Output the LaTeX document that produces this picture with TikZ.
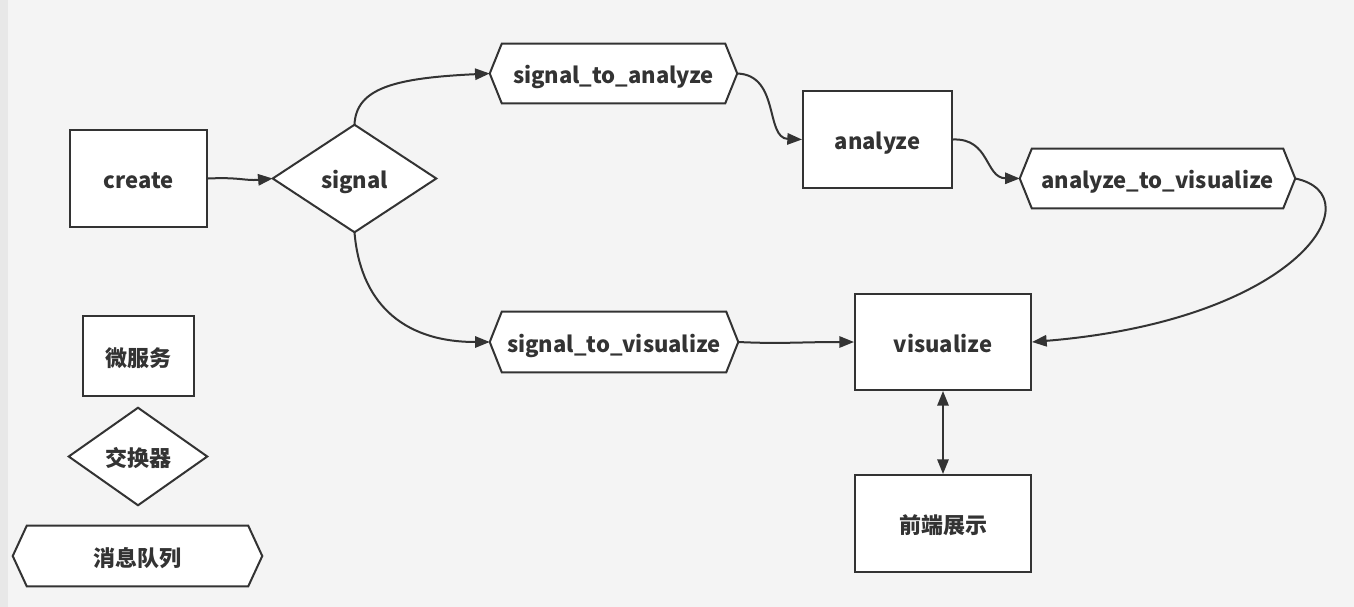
\documentclass[tikz,border=0pt]{standalone}
\usepackage{fontspec}
\setmainfont{Noto Sans CJK SC}
\usetikzlibrary{arrows.meta}
\definecolor{bg}{HTML}{F4F4F4}
\definecolor{strip}{HTML}{E8E8E8}
\definecolor{lc}{HTML}{333333}
\pgfdeclarelayer{bglayer}
\pgfdeclarelayer{shapes}
\pgfsetlayers{bglayer,shapes,main}
\begin{document}
\begin{tikzpicture}[x=0.75pt,y=-0.75pt,
  lbl/.style={inner sep=0pt, text height=17pt, text depth=2pt, font=\fontsize{16.5}{19}\selectfont\bfseries, text=lc},
  shp/.style={draw=lc, fill=white, line width=1.5pt, line join=miter},
  conn/.style={draw=lc, line width=1.5pt, -{Triangle[length=11pt,width=8.5pt]}},
  dconn/.style={draw=lc, line width=1.5pt, {Triangle[length=11pt,width=8.5pt]}-{Triangle[length=11pt,width=8.5pt]}}
]
\begin{pgfonlayer}{bglayer}
\fill[bg] (0,0) rectangle (1354,607);
\fill[strip] (0,0) rectangle (8,607);
\end{pgfonlayer}
\useasboundingbox (0,0) rectangle (1354,607);

% rectangles
\node[lbl, shp, minimum width=137*0.75pt, minimum height=97*0.75pt] (create) at (138.5,178.5) {create};
\node[lbl, shp, minimum width=149*0.75pt, minimum height=97*0.75pt] (analyze) at (877.5,139.5) {analyze};
\node[lbl, shp, minimum width=176*0.75pt, minimum height=96*0.75pt] (visualize) at (943,342) {visualize};
\node[lbl, shp, minimum width=176*0.75pt, minimum height=97*0.75pt] (front) at (943,523.5) {前端展示};
\node[lbl, shp, minimum width=111*0.75pt, minimum height=80*0.75pt] (ms) at (138.5,356) {微服务};

% diamonds
\node[lbl, minimum width=163*0.75pt, minimum height=107*0.75pt] (signal) at (354.5,178.5) {signal};
\node[lbl, minimum width=138*0.75pt, minimum height=97*0.75pt] (ex) at (138,456.5) {交换器};
\begin{pgfonlayer}{shapes}
\draw[shp] (signal.west) -- (signal.north) -- (signal.east) -- (signal.south) -- cycle;
\draw[shp] (ex.west) -- (ex.north) -- (ex.east) -- (ex.south) -- cycle;
\end{pgfonlayer}

% hexagons (message queues)
\node[lbl, minimum width=247*0.75pt, minimum height=59*0.75pt] (sta) at (613.5,73.5) {signal\_to\_analyze};
\node[lbl, minimum width=275*0.75pt, minimum height=59*0.75pt] (atv) at (1157.5,178.5) {analyze\_to\_visualize};
\node[lbl, minimum width=248*0.75pt, minimum height=60*0.75pt] (stv) at (614,342) {signal\_to\_visualize};
\node[lbl, minimum width=249*0.75pt, minimum height=60*0.75pt] (mq) at (137.5,556) {消息队列};
\begin{pgfonlayer}{shapes}
\foreach \n/\d in {sta/12, atv/12, stv/12, mq/14}{
  \draw[shp] ([xshift=\d*0.75pt]\n.north west) -- ([xshift=-\d*0.75pt]\n.north east) -- (\n.east)
    -- ([xshift=-\d*0.75pt]\n.south east) -- ([xshift=\d*0.75pt]\n.south west) -- (\n.west) -- cycle;
}
\end{pgfonlayer}

% connectors
\draw[conn] (create.east) .. controls (240,177) and (245,181) .. (signal.west);
\draw[conn] (signal.north) .. controls (356,88) and (395,78) .. (sta.west);
\draw[conn] (sta.east) .. controls (780,75) and (765,138) .. (analyze.west);
\draw[conn] (analyze.east) .. controls (990,138) and (985,178) .. (atv.west);
\draw[conn] (atv.east) .. controls (1375,195) and (1300,320) .. (visualize.east);
\draw[conn] (signal.south) .. controls (360,300) and (400,342) .. (stv.west);
\draw[conn] (stv.east) .. controls (780,344) and (800,342) .. (visualize.west);
\draw[dconn] (visualize.south) -- (front.north);
\end{tikzpicture}
\end{document}
